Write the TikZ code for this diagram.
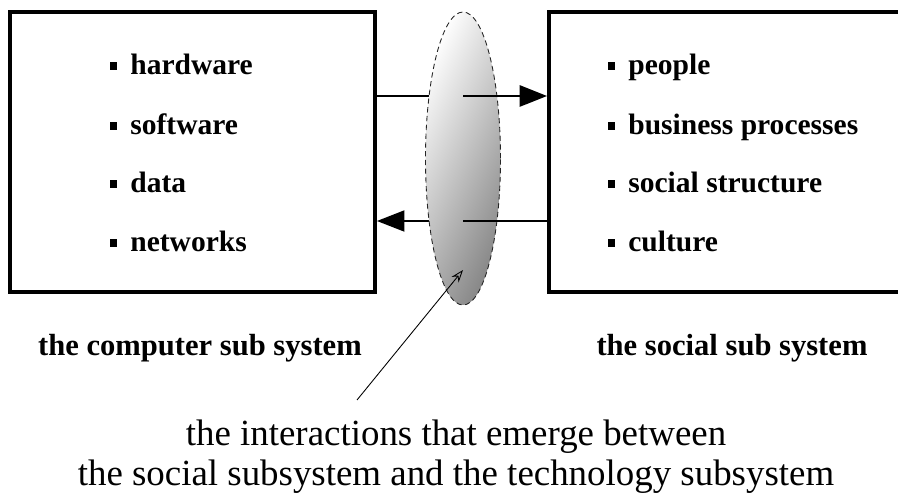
\documentclass[tikz,border=0pt]{standalone}
\usepackage{fontspec}
\setmainfont{Liberation Serif}
\usetikzlibrary{arrows.meta}
\usetikzlibrary{shapes.geometric}
\usetikzlibrary{positioning}
\tikzstyle{arr}=[-{Triangle[length=0.55cm,width=0.42cm]},draw=black]
\tikzstyle{sys}=[rectangle,draw,line width=2.2pt,minimum height=5.6cm,minimum width=7.3cm]
\tikzstyle{itm}=[anchor=base west,inner sep=0pt,font=\fontsize{16.8}{20}\selectfont\bfseries]
\tikzstyle{captxt}=[font=\fontsize{17.4}{20}\selectfont\bfseries]
\newcommand{\blt}{\raisebox{0.1cm}{\rule{0.14cm}{0.16cm}}\hspace{0.26cm}}

\begin{document}
\begin{tikzpicture}
    \useasboundingbox (0,0) rectangle (17.96,9.84);
    \clip (0,0) rectangle (17.96,9.84);
    \node[sys] (C) at (3.85,6.8) {};
    \node[sys] (S) at (14.63,6.8) {};
    % computer side
    \node[itm] (C1) at (2.2,8.34) {\blt hardware};
    \node[itm] (C2) at (2.2,7.14) {\blt software};
    \node[itm] (C3) at (2.2,5.98) {\blt data};
    \node[itm] (C4) at (2.2,4.80) {\blt networks};
    % social side
    \node[itm] (S1) at (12.16,8.34) {\blt people};
    \node[itm] (S2) at (12.16,7.14) {\blt business processes};
    \node[itm] (S3) at (12.16,5.98) {\blt social structure};
    \node[itm] (S4) at (12.16,4.80) {\blt culture};
    \coordinate (t) at (9.26,7.92);
    \coordinate (b) at (9.26,5.42);
    \draw[line width=1.7pt] (C.east |- t) -- (t);
    \draw[arr,line width=1.1pt] (b) -- (C.east |- b);
    \node[ellipse,draw=black!85,densely dashed,line width=0.5pt,inner sep=0pt,
          minimum width=1.5cm,minimum height=5.86cm,
          left color=white,right color=gray!95,shading angle=65] (I) at (9.26,6.67) {};
    \draw[arr,line width=1.7pt] (t) -- (S.west |- t);
    \draw[line width=1.1pt] (S.west |- b) -- (b);
    % captions
    \node[captxt] (Ct) at (4.0,2.88) {the computer sub system};
    \node[captxt] (St) at (14.64,2.88) {the social sub system};
    \node[align=center,font=\fontsize{21}{22.8}\selectfont] (X) at (9.12,0.7)
        {the interactions that emerge between\\the social subsystem and the technology subsystem};
    \coordinate (p) at (7.14,1.84);
    \coordinate (q) at (9.26,4.44);
    \draw[-{Stealth[open,length=0.25cm,width=0.18cm]},line width=0.5pt] (p) -- (q);
\end{tikzpicture}
\end{document}
